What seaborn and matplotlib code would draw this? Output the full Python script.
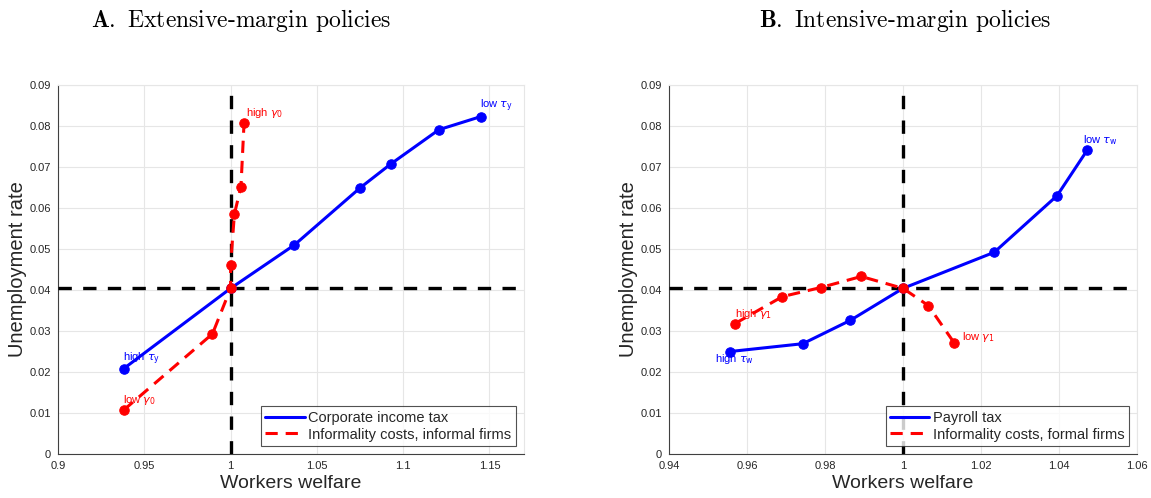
import matplotlib
matplotlib.use("Agg")
import matplotlib.pyplot as plt
from matplotlib.lines import Line2D
import seaborn as sns
import numpy as np
import pandas as pd

# ---------------- data ----------------
# Panel A: extensive-margin policies
corp_welfare = [0.938, 1.000, 1.037, 1.075, 1.0927, 1.1207, 1.145]
corp_unemp = [0.0208, 0.0404, 0.0510, 0.0649, 0.0707, 0.0791, 0.0823]
inf_welfare = [0.938, 0.9895, 1.000, 1.000, 1.0022, 1.006, 1.0078]
inf_unemp = [0.0107, 0.0293, 0.0404, 0.0461, 0.0585, 0.0652, 0.0808]

# Panel B: intensive-margin policies
pay_welfare = [0.9557, 0.9743, 0.9865, 1.000, 1.0234, 1.0395, 1.0473]
pay_unemp = [0.0250, 0.0269, 0.0326, 0.0404, 0.0492, 0.0630, 0.0742]
form_welfare = [0.9569, 0.9691, 0.9789, 0.9893, 1.000, 1.0065, 1.0132]
form_unemp = [0.0318, 0.0384, 0.0406, 0.0433, 0.0404, 0.0362, 0.0270]

baseline_welfare = 1.0
baseline_unemp = 0.0405

title_letters = ["A.", "B."]
title_texts = ["Extensive-margin policies", "Intensive-margin policies"]
legend_labels_A = ["Corporate income tax", "Informality costs, informal firms"]
legend_labels_B = ["Payroll tax", "Informality costs, formal firms"]
xlabel = "Workers welfare"
ylabel = "Unemployment rate"

# ---------------- style ----------------
sns.set_theme(style="white")
plt.rcParams["font.family"] = ["Liberation Sans", "DejaVu Sans"]

fig = plt.figure(figsize=(11.51, 4.98), dpi=100)
W, H = 1151, 498
axA = fig.add_axes([58 / W, 44 / H, 466 / W, 369 / H])
axB = fig.add_axes([669 / W, 44 / H, 468 / W, 369 / H])

BLUE = (0, 0, 1)
RED = (1, 0, 0)
LW = 2.2
MS = 6.8
RED_DASH = (0, (4, 2.6))


def style_axis(ax, xlim, xticks, xticklabels):
    ax.set_xlim(*xlim)
    ax.set_ylim(0, 0.09)
    ax.set_xticks(xticks)
    ax.set_xticklabels(xticklabels)
    yt = np.round(np.arange(0, 0.0901, 0.01), 2)
    ax.set_yticks(yt)
    ax.set_yticklabels(["0"] + [f"{v:.2f}" for v in yt[1:]])
    ax.grid(True, color="#e6e6e6", linewidth=0.8)
    ax.set_axisbelow(True)
    for s in ["top", "right"]:
        ax.spines[s].set_color("#e6e6e6")
        ax.spines[s].set_linewidth(0.8)
    for s in ["left", "bottom"]:
        ax.spines[s].set_color("#404040")
        ax.spines[s].set_linewidth(0.8)
    ax.tick_params(axis="both", direction="in", length=3, width=0.6,
                   colors="#404040", labelsize=8, labelcolor="#262626", pad=5)
    ax.tick_params(top=False, right=False)
    ax.set_xlabel(xlabel, fontsize=14, color="#262626", labelpad=3)
    ax.set_ylabel(ylabel, fontsize=14.5, color="#262626", labelpad=2)


def plot_panel(ax, xs1, ys1, xs2, ys2, labels):
    ax.axvline(baseline_welfare, color="black", lw=2.4, linestyle=(0, (4, 3.4)), zorder=3)
    ax.axhline(baseline_unemp, color="black", lw=2.4, linestyle=(0, (4, 3.4)), zorder=3)
    d1 = pd.DataFrame({"w": xs1, "u": ys1})
    d2 = pd.DataFrame({"w": xs2, "u": ys2})
    sns.lineplot(data=d1, x="w", y="u", ax=ax, sort=False, estimator=None,
                 color=BLUE, lw=LW, marker="o", markersize=MS,
                 markeredgecolor=BLUE, zorder=4, legend=False)
    sns.lineplot(data=d2, x="w", y="u", ax=ax, sort=False, estimator=None,
                 color=RED, lw=LW, marker="o", markersize=MS,
                 markeredgecolor=RED, linestyle=RED_DASH, zorder=5, legend=False)
    handles = [Line2D([], [], color=BLUE, lw=LW),
               Line2D([], [], color=RED, lw=LW, linestyle=RED_DASH)]
    leg = ax.legend(handles, labels, loc="lower right", fontsize=10.5, frameon=True,
                    fancybox=False, borderaxespad=0.55, handlelength=2.7,
                    handletextpad=0.25, borderpad=0.3, labelspacing=0.2)
    leg.get_frame().set_edgecolor("#262626")
    leg.get_frame().set_linewidth(0.8)
    leg.set_zorder(6)


plot_panel(axA, corp_welfare, corp_unemp, inf_welfare, inf_unemp, legend_labels_A)
style_axis(axA, (0.9, 1.17), [0.9, 0.95, 1.0, 1.05, 1.1, 1.15],
           ["0.9", "0.95", "1", "1.05", "1.1", "1.15"])

plot_panel(axB, pay_welfare, pay_unemp, form_welfare, form_unemp, legend_labels_B)
style_axis(axB, (0.94, 1.06), [0.94, 0.96, 0.98, 1.0, 1.02, 1.04, 1.06],
           ["0.94", "0.96", "0.98", "1", "1.02", "1.04", "1.06"])

# annotations
ann_kw = dict(textcoords="offset pixels", fontsize=8, va="center", ha="left")
axA.annotate(r"low $\tau_{\mathrm{y}}$", (corp_welfare[-1], corp_unemp[-1]), xytext=(-1, 11), color=BLUE, **ann_kw)
axA.annotate(r"high $\tau_{\mathrm{y}}$", (corp_welfare[0], corp_unemp[0]), xytext=(-1, 10), color=BLUE, **ann_kw)
axA.annotate(r"low $\gamma_0$", (inf_welfare[0], inf_unemp[0]), xytext=(-1, 10), color=RED, **ann_kw)
axA.annotate(r"high $\gamma_0$", (inf_welfare[-1], inf_unemp[-1]), xytext=(2, 10), color=RED, **ann_kw)

axB.annotate(r"low $\tau_{\mathrm{w}}$", (pay_welfare[-1], pay_unemp[-1]), xytext=(-4, 10), color=BLUE, **ann_kw)
axB.annotate(r"high $\tau_{\mathrm{w}}$", (pay_welfare[0], pay_unemp[0]), xytext=(-15, -7), color=BLUE, **ann_kw)
axB.annotate(r"high $\gamma_1$", (form_welfare[0], form_unemp[0]), xytext=(0, 10), color=RED, **ann_kw)
axB.annotate(r"low $\gamma_1$", (form_welfare[-1], form_unemp[-1]), xytext=(8, 6), color=RED, **ann_kw)

# titles
for cx, letter, txt in [(241, title_letters[0], title_texts[0]),
                        (905, title_letters[1], title_texts[1])]:
    fig.text(cx / W, 1 - 20 / H, r"$\mathbf{" + letter + r"}$ " + txt,
             ha="center", va="center", fontsize=17, family="cmr10",
             math_fontfamily="cm", color="black")

fig.savefig("out.png", dpi=100)
